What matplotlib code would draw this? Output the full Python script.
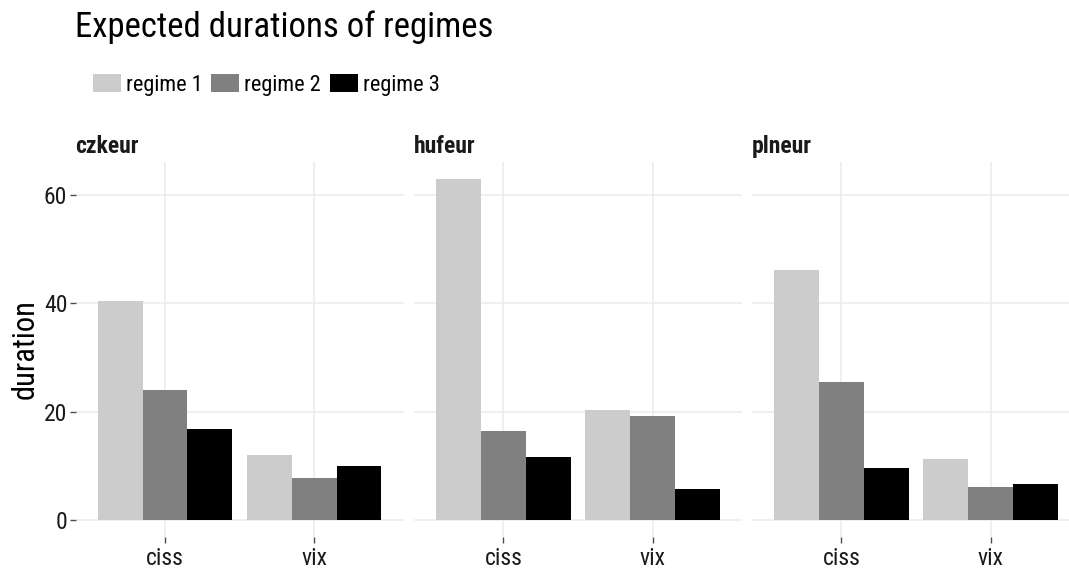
import numpy as np
import matplotlib
matplotlib.use("Agg")
import matplotlib.pyplot as plt

plt.rcParams['font.family'] = ['Roboto Condensed', 'DejaVu Sans']

# data
panels = ['czkeur', 'hufeur', 'plneur']
indices = ['ciss', 'vix']
regimes = ['regime 1', 'regime 2', 'regime 3']
colors = ['#cccccc', '#808080', '#000000']

# duration[panel][regime] -> values for (ciss, vix)
czkeur = [[40.4, 12.0], [24.0, 7.7], [16.8, 10.0]]
hufeur = [[63.0, 20.3], [16.4, 19.2], [11.6, 5.7]]
plneur = [[46.2, 11.3], [25.5, 6.1], [9.6, 6.6]]
durations = [czkeur, hufeur, plneur]

W, H = 1069, 568
fig = plt.figure(figsize=(W / 100, H / 100), dpi=100)

lefts = [75.6, 414, 752]
pw = 328
top_px, bot_px = 161.7, 537

x = np.arange(1, len(indices) + 1)
bw = 0.3

for k, name in enumerate(panels):
    ax = fig.add_axes([lefts[k] / W, 1 - bot_px / H, pw / W, (bot_px - top_px) / H])
    for i, reg in enumerate(regimes):
        ax.bar(x + (i - 1) * bw, durations[k][i], width=bw, color=colors[i],
               label=reg, zorder=2)
    ax.set_xlim(0.4, 2.6)
    ax.set_ylim(-3.15, 66.15)
    ax.set_xticks(x)
    ax.set_xticklabels(indices, fontsize=17, color='#1a1a1a')
    ax.set_yticks([0, 20, 40, 60])
    ax.grid(True, color='#ebebeb', lw=1.1, zorder=0)
    ax.set_axisbelow(True)
    for s in ax.spines.values():
        s.set_visible(False)
    ax.tick_params(axis='x', length=4, width=1, color='#4d4d4d', pad=3)
    if k == 0:
        ax.tick_params(axis='y', length=4, width=1, color='#4d4d4d', labelsize=17,
                       labelcolor='#1a1a1a', pad=2)
        ax.set_ylabel('duration', fontsize=22, labelpad=3)
    else:
        ax.tick_params(axis='y', length=0, labelleft=False)
    fig.text(lefts[k] / W, 1 - 153 / H, name, fontsize=17, fontweight='bold',
             color='#1a1a1a', va='baseline', ha='left')

fig.text(75 / W, 1 - 37 / H, 'Expected durations of regimes', fontsize=25,
         va='baseline', ha='left')

handles, labels = ax.get_legend_handles_labels()
fig.legend(handles, labels, loc='upper left', bbox_to_anchor=(93 / W, 1 - 74 / H),
           ncol=3, frameon=False, fontsize=16, borderpad=0, borderaxespad=0,
           handlelength=1.26, handleheight=0.86, handletextpad=0.22,
           columnspacing=0.4)

fig.savefig('out.png', dpi=100)
